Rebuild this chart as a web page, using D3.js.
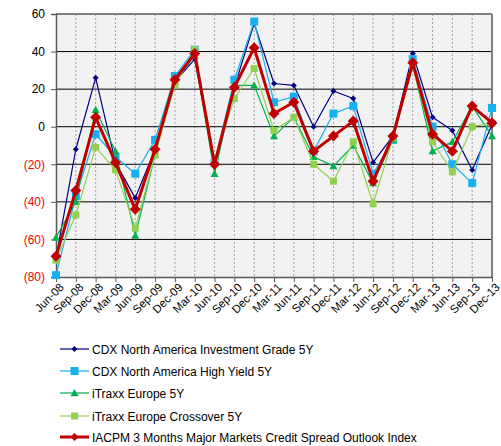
<!DOCTYPE html>
<html><head><meta charset="utf-8">
<script src="https://cdn.jsdelivr.net/npm/d3@7"></script>
<style>body{margin:0;background:#fff}svg{display:block;font-family:Arial,"Liberation Sans",sans-serif}</style>
</head><body><svg id="c" width="501" height="446"></svg>
<script>
const categories = ["Jun-08","Sep-08","Dec-08","Mar-09","Jun-09","Sep-09","Dec-09","Mar-10","Jun-10","Sep-10","Dec-10","Mar-11","Jun-11","Sep-11","Dec-11","Mar-12","Jun-12","Sep-12","Dec-12","Mar-13","Jun-13","Sep-13","Dec-13"];
const cdxIG = [-70,-12,26,-19,-38,-12,24,36,-20,21,55,23,22,0,19,15,-19,-5,39,5,-2,-23,1];
const cdxHY = [-79,-37,-4,-16,-25,-7,27,41,-19,25,56,13,16,-13,7,11,-25,-7,36,0,-20,-30,10];
const itraxxEU = [-59,-40,9,-13,-58,-15,24,38,-25,22,22,-5,5,-16,-21,-10,-30,-7,33,-13,-8,11,-5];
const itraxxXO = [-71,-47,-11,-23,-54,-15,22,41,-18,15,31,-2,5,-20,-29,-8,-41,-6,32,-8,-24,0,2];
const iacpm = [-69,-34,5,-19,-44,-12,25,39,-20,21,42,7,13,-13,-5,3,-29,-5,34,-4,-13,11,2];
const yTicks = [60,40,20,0,-20,-40,-60,-80];

const series = [
  {name:"CDX North America Investment Grade 5Y", values:cdxIG, color:"#000080", shape:"diamond", size:6, width:1.2},
  {name:"CDX North America High Yield 5Y", values:cdxHY, color:"#17b0f0", shape:"square", size:8, width:1.2},
  {name:"iTraxx Europe 5Y", values:itraxxEU, color:"#00b050", shape:"triangle", size:8, width:1.2},
  {name:"iTraxx Europe Crossover 5Y", values:itraxxXO, color:"#92d050", shape:"square", size:7, width:1.2},
  {name:"IACPM 3 Months Major Markets Credit Spread Outlook Index", values:iacpm, color:"#c00000", shape:"diamond", size:11, width:3}
];

const svg = d3.select("#c");
const L=56, R=492, T=14, B=277;
const x = d3.scalePoint().domain(categories).range([L,R]);
const y = d3.scaleLinear().domain([-80,60]).range([B,T]);

svg.append("rect").attr("x",L).attr("y",T).attr("width",R-L).attr("height",B-T).attr("fill","#f2f2f2");
svg.append("g").selectAll("line").data(categories.slice(1)).join("line")
  .attr("x1",d=>x(d)).attr("x2",d=>x(d)).attr("y1",T).attr("y2",B)
  .attr("stroke","#8c8c8c").attr("stroke-width",0.8).attr("stroke-dasharray","2,2");
svg.append("g").selectAll("line").data(yTicks.filter(v=>v>-80&&v<60)).join("line")
  .attr("x1",L).attr("x2",R).attr("y1",d=>y(d)).attr("y2",d=>y(d))
  .attr("stroke","#000").attr("stroke-width",1);
svg.append("line").attr("x1",L).attr("x2",R).attr("y1",T).attr("y2",T).attr("stroke","#808080").attr("stroke-width",2);
svg.append("line").attr("x1",R).attr("x2",R).attr("y1",T).attr("y2",B).attr("stroke","#808080").attr("stroke-width",2);

const yAxis = svg.append("g").attr("transform",`translate(${L},0)`)
  .call(d3.axisLeft(y).tickValues(yTicks).tickSize(5).tickPadding(6).tickFormat(d=>d<0?`(${-d})`:d));
yAxis.select(".domain").attr("stroke","#595959").attr("stroke-width",1.5);
yAxis.selectAll(".tick line").attr("stroke","#595959");
yAxis.selectAll("text").attr("font-size",12).attr("font-family","Arial, 'Liberation Sans', sans-serif")
  .attr("fill",d=>d<0?"#ff0000":"#000");

const xAxis = svg.append("g").attr("transform",`translate(0,${B})`)
  .call(d3.axisBottom(x).tickSize(5).tickSizeOuter(0));
xAxis.select(".domain").attr("stroke","#595959").attr("stroke-width",1.5);
xAxis.selectAll(".tick line").attr("stroke","#595959");
xAxis.selectAll("text").attr("font-size",11.5).attr("font-family","Arial, 'Liberation Sans', sans-serif")
  .attr("fill","#000").attr("text-anchor","end").attr("dy",0).attr("y",0)
  .attr("transform","translate(8,11) rotate(-45)");

function sym(shape,size){
  if(shape==="square") return `M${-size/2},${-size/2}h${size}v${size}h${-size}Z`;
  if(shape==="diamond"){const s=size/2;return `M0,${-s}L${s},0L0,${s}L${-s},0Z`;}
  const s=size/2; return `M0,${-s}L${s},${s*0.8}L${-s},${s*0.8}Z`;
}
const line = d3.line().x((d,i)=>x(categories[i])).y(d=>y(d));
series.forEach(s=>{
  const g = svg.append("g");
  g.append("path").attr("d",line(s.values)).attr("fill","none").attr("stroke",s.color).attr("stroke-width",s.width).attr("stroke-linejoin","round");
  g.selectAll("path.m").data(s.values).join("path").attr("class","m")
    .attr("transform",(d,i)=>`translate(${x(categories[i])},${y(d)})`)
    .attr("d",sym(s.shape,s.size)).attr("fill",s.color);
});

const lg = svg.append("g");
const rowsY = [349,371,393,416,437];
series.forEach((s,i)=>{
  const yy = rowsY[i];
  lg.append("line").attr("x1",60).attr("x2",89).attr("y1",yy).attr("y2",yy).attr("stroke",s.color).attr("stroke-width",s.width);
  lg.append("path").attr("transform",`translate(74.5,${yy})`).attr("d",sym(s.shape,Math.min(s.size,8))).attr("fill",s.color);
  lg.append("text").attr("x",92).attr("y",yy+4.5).attr("font-size",12).attr("fill","#000").text(s.name);
});
</script></body></html>
